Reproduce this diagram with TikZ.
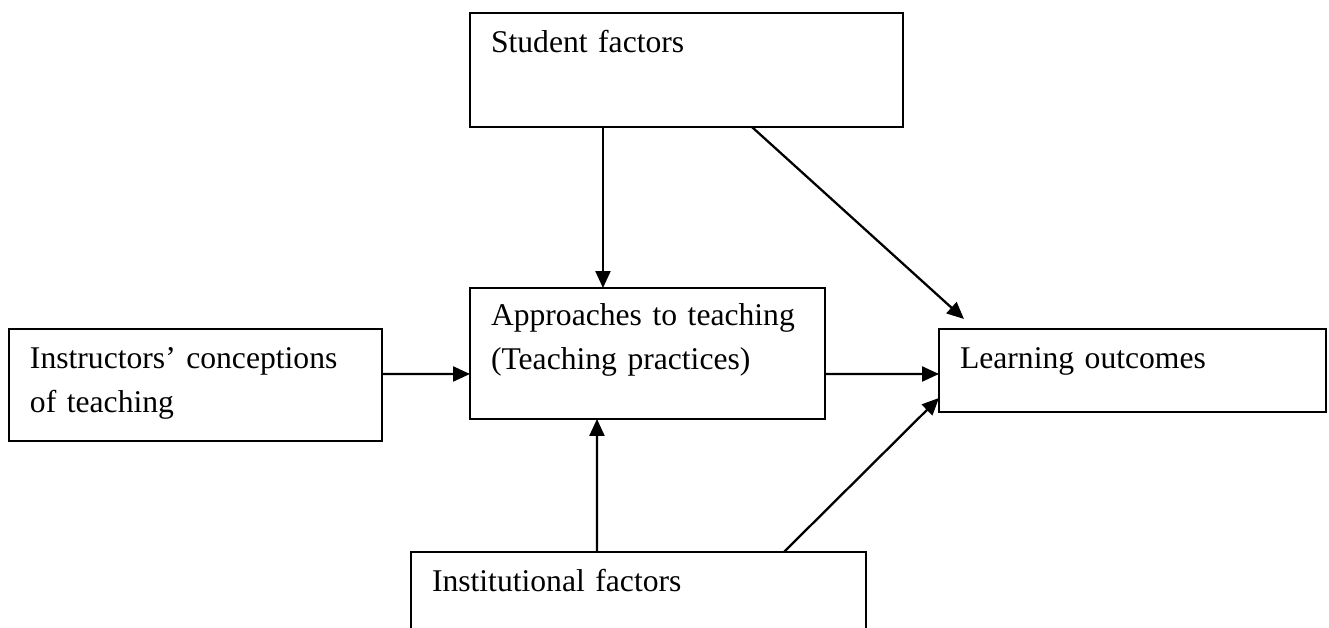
\documentclass[tikz,border=0pt]{standalone}
\usepackage{fontspec}
\setmainfont{Liberation Serif}
\usetikzlibrary{arrows.meta}

\begin{document}
\begin{tikzpicture}[
                          x=0.02cm, y=-0.02cm,
                          >={Triangle[length=0.34cm, width=0.3cm]},
                          factorbox/.style={rectangle, draw, line width=1.2pt, anchor=north west, inner xsep=0.42cm, inner ysep=0pt, outer sep=0pt, align=left, text height=0.8cm, font=\fontsize{18}{24.5}\selectfont},
                          link/.style={->, line width=1.3pt},
                      ]
                      \useasboundingbox (0,0) rectangle (1329,628);
                      %Nodes
                      \node[factorbox, text width=7.82cm, text depth=1.48cm]                    (student)     at (470,13)    {Student factors};
                      \node[factorbox, text width=6.26cm, text height=0.76cm, text depth=1.86cm] (approach)    at (470,288)   {Approaches to teaching\\(Teaching practices)};
                      \node[factorbox, text width=6.63cm, text depth=1.44cm]                    (instructor)  at (9,329)     {Instructors’ conceptions\\of teaching};
                      \node[factorbox, text width=6.90cm, text depth=0.86cm]                    (outcome)     at (939,329)   {Learning outcomes};
                      \node[factorbox, text width=8.26cm, text depth=1.56cm]                    (institution) at (411,552)   {Institutional factors};

                      %Lines
                      \draw[link] ([xshift=2.66cm]student.south west) -- ([xshift=2.66cm]approach.north west);
                      \draw[link] ([xshift=5.64cm]student.south west) -- ([xshift=0.5cm, yshift=0.2cm]outcome.north west);
                      \draw[link] ([yshift=0.22cm]instructor.east) -- ([yshift=-0.41cm]approach.west);
                      \draw[link] ([yshift=-0.41cm]approach.east) -- ([yshift=-0.07cm]outcome.west);
                      \draw[link] ([xshift=3.72cm]institution.north west) -- ([xshift=2.54cm]approach.south west);
                      \draw[link] ([xshift=7.46cm]institution.north west) -- ([yshift=0.28cm]outcome.south west);
                  \end{tikzpicture}
\end{document}
